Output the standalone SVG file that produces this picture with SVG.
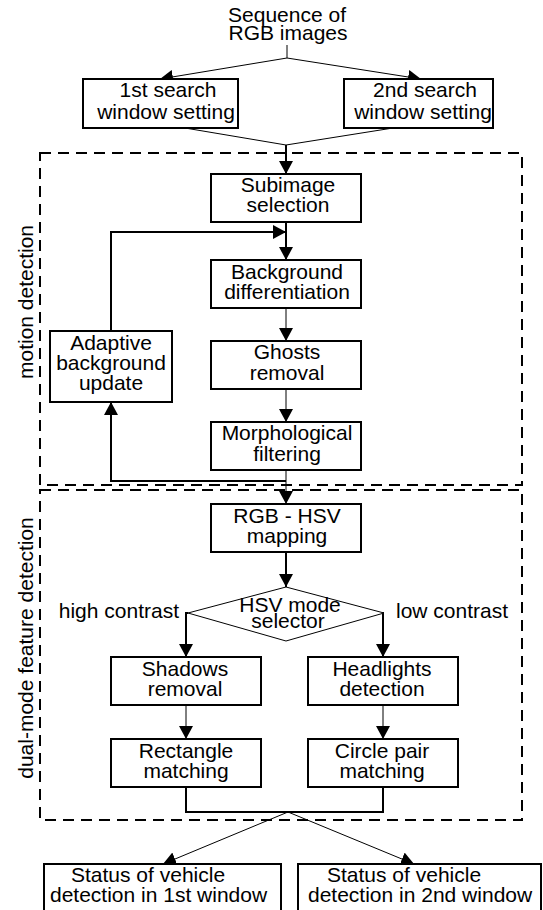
<svg xmlns="http://www.w3.org/2000/svg" width="543" height="910" viewBox="0 0 543 910">
<style>
.t{font-family:"Liberation Sans",Arial,sans-serif;font-size:21px;fill:#000}
.m{text-anchor:middle}
.box{fill:#fff;stroke:#000;stroke-width:2}
.c1{fill:none;stroke:#000;stroke-width:1}
.c2{fill:none;stroke:#000;stroke-width:2}
.dash{fill:none;stroke:#000;stroke-width:2;stroke-dasharray:11 7}
</style>
<defs>
<marker id="ah" viewBox="0 0 13 14" markerWidth="13" markerHeight="14" refX="13" refY="7" orient="auto" markerUnits="userSpaceOnUse">
<path d="M0,0 L13,7 L0,14 z" fill="#000"/>
</marker>
</defs>
<rect width="543" height="910" fill="#fff"/>
<g id="regions">
<rect class="dash" x="40" y="153" width="482" height="332"/>
<rect class="dash" x="40" y="490" width="482" height="330"/>
<text class="t m" transform="translate(33,302) rotate(-90)">motion detection</text>
<text class="t m" transform="translate(33,648) rotate(-90)">dual-mode feature detection</text>
</g>
<g id="connectors">
<line class="c1" x1="287" y1="45" x2="287" y2="58"/>
<line class="c1" x1="287" y1="58" x2="160" y2="79" marker-end="url(#ah)"/>
<line class="c1" x1="287" y1="58" x2="421" y2="79" marker-end="url(#ah)"/>
<polyline class="c1" points="185,128 286,145 393,128"/>
<line class="c2" x1="286" y1="145" x2="286" y2="174" marker-end="url(#ah)"/>
<line class="c2" x1="286" y1="222" x2="286" y2="260" marker-end="url(#ah)"/>
<line class="c1" x1="286" y1="308" x2="286" y2="341" marker-end="url(#ah)"/>
<line class="c1" x1="286" y1="389" x2="286" y2="422" marker-end="url(#ah)"/>
<line class="c1" x1="286" y1="470" x2="286" y2="504" marker-end="url(#ah)"/>
<polyline class="c2" points="286,481 111,481 111,402" marker-end="url(#ah)"/>
<polyline class="c2" points="111,331 111,232 286,232" marker-end="url(#ah)"/>
<line class="c2" x1="286" y1="552" x2="286" y2="587" marker-end="url(#ah)"/>
<polyline class="c2" points="188,613 186,613 186,657" marker-end="url(#ah)"/>
<polyline class="c2" points="384,613 383,613 383,657" marker-end="url(#ah)"/>
<line class="c1" x1="186" y1="705" x2="186" y2="739" marker-end="url(#ah)"/>
<line class="c1" x1="383" y1="705" x2="383" y2="739" marker-end="url(#ah)"/>
<polyline class="c2" points="186,787 186,812 383,812 383,787"/>
<line class="c1" x1="288" y1="812" x2="163" y2="864" marker-end="url(#ah)"/>
<line class="c1" x1="288" y1="812" x2="414" y2="864" marker-end="url(#ah)"/>
</g>
<g id="source">
<text class="t m" x="287" y="22">Sequence of</text>
<text class="t m" x="288" y="40">RGB images</text>
</g>
<g id="win1">
<rect class="box" x="83" y="79" width="155" height="49"/>
<text class="t m" x="168" y="97">1st search</text>
<text class="t m" x="166" y="119">window setting</text>
</g>
<g id="win2">
<rect class="box" x="344" y="79" width="149" height="49"/>
<text class="t m" x="425" y="97">2nd search</text>
<text class="t m" x="423" y="119">window setting</text>
</g>
<g id="subimage">
<rect class="box" x="211" y="174" width="150" height="48"/>
<text class="t m" x="288" y="192">Subimage</text>
<text class="t m" x="288" y="212">selection</text>
</g>
<g id="background">
<rect class="box" x="211" y="260" width="150" height="48"/>
<text class="t m" x="287" y="279">Background</text>
<text class="t m" x="287" y="299">differentiation</text>
</g>
<g id="ghosts">
<rect class="box" x="211" y="341" width="150" height="48"/>
<text class="t m" x="287" y="359">Ghosts</text>
<text class="t m" x="287" y="380">removal</text>
</g>
<g id="morph">
<rect class="box" x="211" y="422" width="150" height="48"/>
<text class="t m" x="287" y="440">Morphological</text>
<text class="t m" x="287" y="461">filtering</text>
</g>
<g id="adaptive">
<rect class="box" x="50" y="331" width="122" height="71"/>
<text class="t m" x="111" y="350">Adaptive</text>
<text class="t m" x="111" y="370">background</text>
<text class="t m" x="111" y="390">update</text>
</g>
<g id="rgbhsv">
<rect class="box" x="211" y="504" width="150" height="48"/>
<text class="t m" x="287" y="523">RGB - HSV</text>
<text class="t m" x="287" y="543">mapping</text>
</g>
<g id="selector">
<polygon points="286,587 384,613 286,641 188,613" fill="#fff" stroke="#000" stroke-width="1"/>
<text class="t m" x="290" y="612">HSV mode</text>
<text class="t m" x="288" y="628">selector</text>
<text class="t" x="179" y="618" text-anchor="end">high contrast</text>
<text class="t" x="396" y="618">low contrast</text>
</g>
<g id="shadows">
<rect class="box" x="111" y="657" width="150" height="48"/>
<text class="t m" x="185" y="676">Shadows</text>
<text class="t m" x="185" y="696">removal</text>
</g>
<g id="headlights">
<rect class="box" x="308" y="657" width="150" height="48"/>
<text class="t m" x="382" y="676">Headlights</text>
<text class="t m" x="382" y="696">detection</text>
</g>
<g id="rectangle">
<rect class="box" x="111" y="739" width="150" height="48"/>
<text class="t m" x="186" y="758">Rectangle</text>
<text class="t m" x="186" y="778">matching</text>
</g>
<g id="circle">
<rect class="box" x="308" y="739" width="150" height="48"/>
<text class="t m" x="382" y="758">Circle pair</text>
<text class="t m" x="382" y="778">matching</text>
</g>
<g id="status1">
<rect class="box" x="44" y="864" width="237" height="60"/>
<text class="t" x="71" y="882">Status of vehicle</text>
<text class="t" x="50" y="902">detection in 1st window</text>
</g>
<g id="status2">
<rect class="box" x="298" y="864" width="243" height="60"/>
<text class="t" x="327" y="882">Status of vehicle</text>
<text class="t" x="308" y="902">detection in 2nd window</text>
</g>
</svg>
